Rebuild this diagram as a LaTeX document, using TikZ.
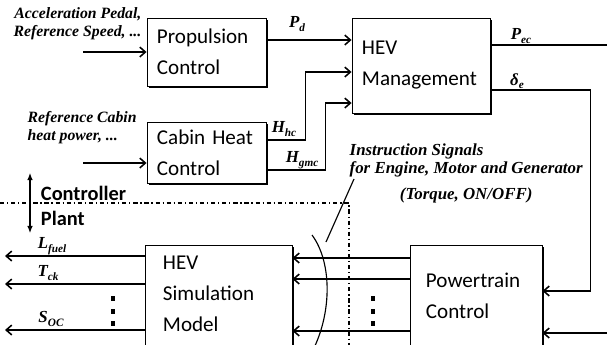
\documentclass[tikz,border=0pt]{standalone}
\usepackage{fontspec}
\setmainfont{Liberation Serif}
\newfontfamily\calibri{Carlito}
\usetikzlibrary{arrows.meta,shadows}

\newcommand{\sig}[2]{\textit{#1}\raisebox{-0.45ex}{\fontsize{8}{8}\selectfont\textit{#2}}}

\begin{document}
\begin{tikzpicture}[x=0.025cm, y=-0.025cm,
    bloc/.style={draw, line width=0.6pt, fill=white,
      drop shadow={shadow xshift=1.3pt, shadow yshift=-1.3pt, fill=black, opacity=1}},
    boite/.style={bloc, font=\calibri\fontsize{15}{22}\selectfont, align=left, inner xsep=0.25cm},
    texte/.style={font=\calibri\fontsize{15}{22}\selectfont, align=left},
    etiq/.style={font=\bfseries\itshape\fontsize{12}{13}\selectfont, inner sep=1pt},
    fleche/.style={line width=1.1pt, -{Straight Barb[length=4pt,width=7pt]}},
    trait/.style={line width=1.1pt}]
        \clip (0,0) rectangle (607,344);

        % Contrôleur
        \node[boite, minimum height=1.7cm, text width=2.475cm] (prop) at (206.5,52) {Propulsion\\Control};
        \node[boite, minimum height=1.525cm, text width=2.475cm] (cab) at (206.5,152.5) {Cabin Heat\\Control};
        \node[boite, minimum height=2.375cm, text width=2.95cm] (hev) at (421,65.5) {HEV\\Management};

        \node[etiq, font=\bfseries\itshape\fontsize{11.2}{13}\selectfont, align=right, anchor=east] (acc) at (143,24) {Acceleration Pedal,\\Reference Speed, ...};
        \node[etiq, font=\bfseries\itshape\fontsize{11.2}{13}\selectfont, align=left, anchor=west] (refcab) at (26,127.5) {Reference Cabin\\heat power, ...};

        \coordinate (inprop) at (83,52);
        \coordinate (incab) at (83,163);
        \draw[fleche] (inprop) -- (prop.west |- inprop);
        \draw[fleche] (incab) -- (cab.west |- incab);

        % Signaux vers la gestion HEV
        \coordinate (pd) at ([yshift=0.3cm]prop.east);
        \draw[fleche] (pd) -- (hev.west |- pd);
        \draw[fleche] ([yshift=0.3125cm]cab.east) -- ++(39,0) |- ([yshift=-0.1625cm]hev.west);
        \draw[fleche] ([yshift=-0.4375cm]cab.east) -- ++(59,0) |- ([yshift=-0.9375cm]hev.west);
        \node[etiq] (lpd) at (297,24) {\sig{P}{d}};
        \node[etiq] (lhhc) at (284,129) {\sig{H}{hc}};
        \node[etiq] (lhgmc) at (302,160) {\sig{H}{gmc}};

        \node[etiq, align=left, anchor=west] (instr) at (348,160.5) {Instruction Signals\\for Engine, Motor and Generator};
        \node[etiq] (torque) at (instr.south |- 0,195) {(Torque, ON/OFF)};

        % Séparation contrôleur / installation
        \draw[line width=0.9pt, dash dot] (0,203) -| (349,350);
        \draw[{Latex[length=5pt,width=4pt]}-{Latex[length=5pt,width=4pt]}, line width=0.8pt] (30,173) -- (30,233);
        \node[texte, font=\calibri\bfseries\fontsize{14.5}{20}\selectfont, anchor=west] (ctrl) at (36,193) {Controller};
        \node[texte, font=\calibri\bfseries\fontsize{14.5}{20}\selectfont, anchor=west] (plant) at (36,218) {Plant};

        % Installation
        \node[bloc, minimum width=3.675cm, minimum height=3.125cm] (sim) at (218.5,307.5) {};
        \node[texte, anchor=west] (simtxt) at (158,294) {HEV\\Simulation\\Model};
        \node[bloc, minimum width=3.3cm, minimum height=3.125cm] (ptc) at (476,307.5) {};
        \node[texte, anchor=west] (ptctxt) at (421,296) {Powertrain\\Control};

        % Sorties de la gestion HEV
        \coordinate (pec) at (610,45);
        \draw[trait] (hev.east |- pec) -- (pec);
        \node[etiq] (lpec) at (521,36) {\sig{P}{ec}};
        \draw[fleche] ([yshift=-0.6125cm]hev.east) -- ++(100,0) |- ([yshift=0.4125cm]ptc.east);
        \node[etiq] (lde) at (517,81) {\sig{δ}{e}};

        \coordinate (inptc) at (610,333);
        \draw[fleche] (inptc) -- (ptc.east |- inptc);
        \foreach \y in {258,279,331}
            \draw[fleche] (ptc.west |- 0,\y) -- (sim.east |- 0,\y);

        \foreach \y/\nom in {256/lfuel,284/tck,330/soc}{
            \coordinate (\nom) at (5,\y);
            \draw[fleche] (sim.west |- \nom) -- (\nom);
        }
        \node[etiq] (llf) at (52,246) {\sig{L}{fuel}};
        \node[etiq] (ltck) at (48,273) {\sig{T}{ck}};
        \node[etiq] (lsoc) at (51,319) {\sig{S}{OC}};

        % Points de suspension
        \foreach \x in {113,373}
            \foreach \y in {298,311,323}
                \fill (\x,\y) +(-2,-2.5) rectangle +(2,2.5);

        % Accolade des signaux
        \coordinate (arcpt) at (326,242);
        \draw[line width=0.8pt] (312,235) .. controls (332,262) and (332,312) .. (313,350);
        \draw[line width=0.8pt] ([xshift=0.15cm]instr.south west) -- (arcpt);
\end{tikzpicture}
\end{document}
